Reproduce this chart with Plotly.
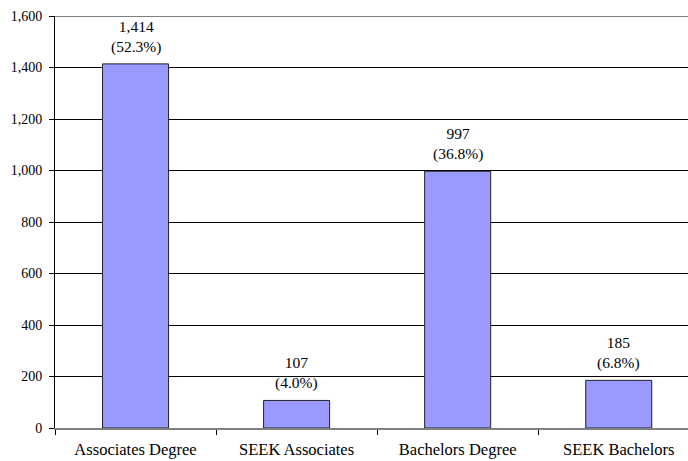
import plotly.graph_objects as go

# Degree counts by program
categories = ["Associates Degree", "SEEK Associates", "Bachelors Degree", "SEEK Bachelors"]
counts = [1414, 107, 997, 185]
shares = ["52.3%", "4.0%", "36.8%", "6.8%"]
y_ticks = [0, 200, 400, 600, 800, 1000, 1200, 1400, 1600]

FONT = "Liberation Serif"

fig = go.Figure(
    go.Bar(
        x=categories,
        y=counts,
        width=0.41,
        marker=dict(color="#9999FF", line=dict(color="#222222", width=1)),
        hoverinfo="skip",
    )
)

# Value and share labels above each bar
for cat, n, pct in zip(categories, counts, shares):
    fig.add_annotation(
        x=cat, y=n, text=f"{n:,}<br>({pct})", showarrow=False,
        yanchor="bottom", yshift=6, font=dict(family=FONT, size=15.5, color="#000"),
    )

# Top border of the plot area
fig.add_shape(type="line", xref="paper", yref="y", x0=0, x1=1, y0=1600, y1=1600,
              line=dict(color="#808080", width=2))

fig.update_layout(
    width=688, height=461,
    margin=dict(l=55, r=0, t=16, b=33),
    paper_bgcolor="white", plot_bgcolor="white",
    showlegend=False,
    font=dict(family=FONT, color="#000"),
    xaxis=dict(
        range=[-0.5, 3.43], automargin=False,
        showgrid=False, showline=True, linecolor="#808080", linewidth=2,
        ticks="outside", tickson="boundaries", ticklen=5, tickcolor="#000",
        tickfont=dict(family=FONT, size=16.5), ticklabelstandoff=5,
    ),
    yaxis=dict(
        range=[0, 1600], tickvals=y_ticks, tickformat=",d", automargin=False,
        showgrid=True, gridcolor="#000", gridwidth=1, zeroline=False,
        showline=True, linecolor="#000", linewidth=1,
        ticks="outside", ticklen=5, tickcolor="#000",
        tickfont=dict(family=FONT, size=14), ticklabelstandoff=4,
    ),
)

fig.write_html("out.html")
